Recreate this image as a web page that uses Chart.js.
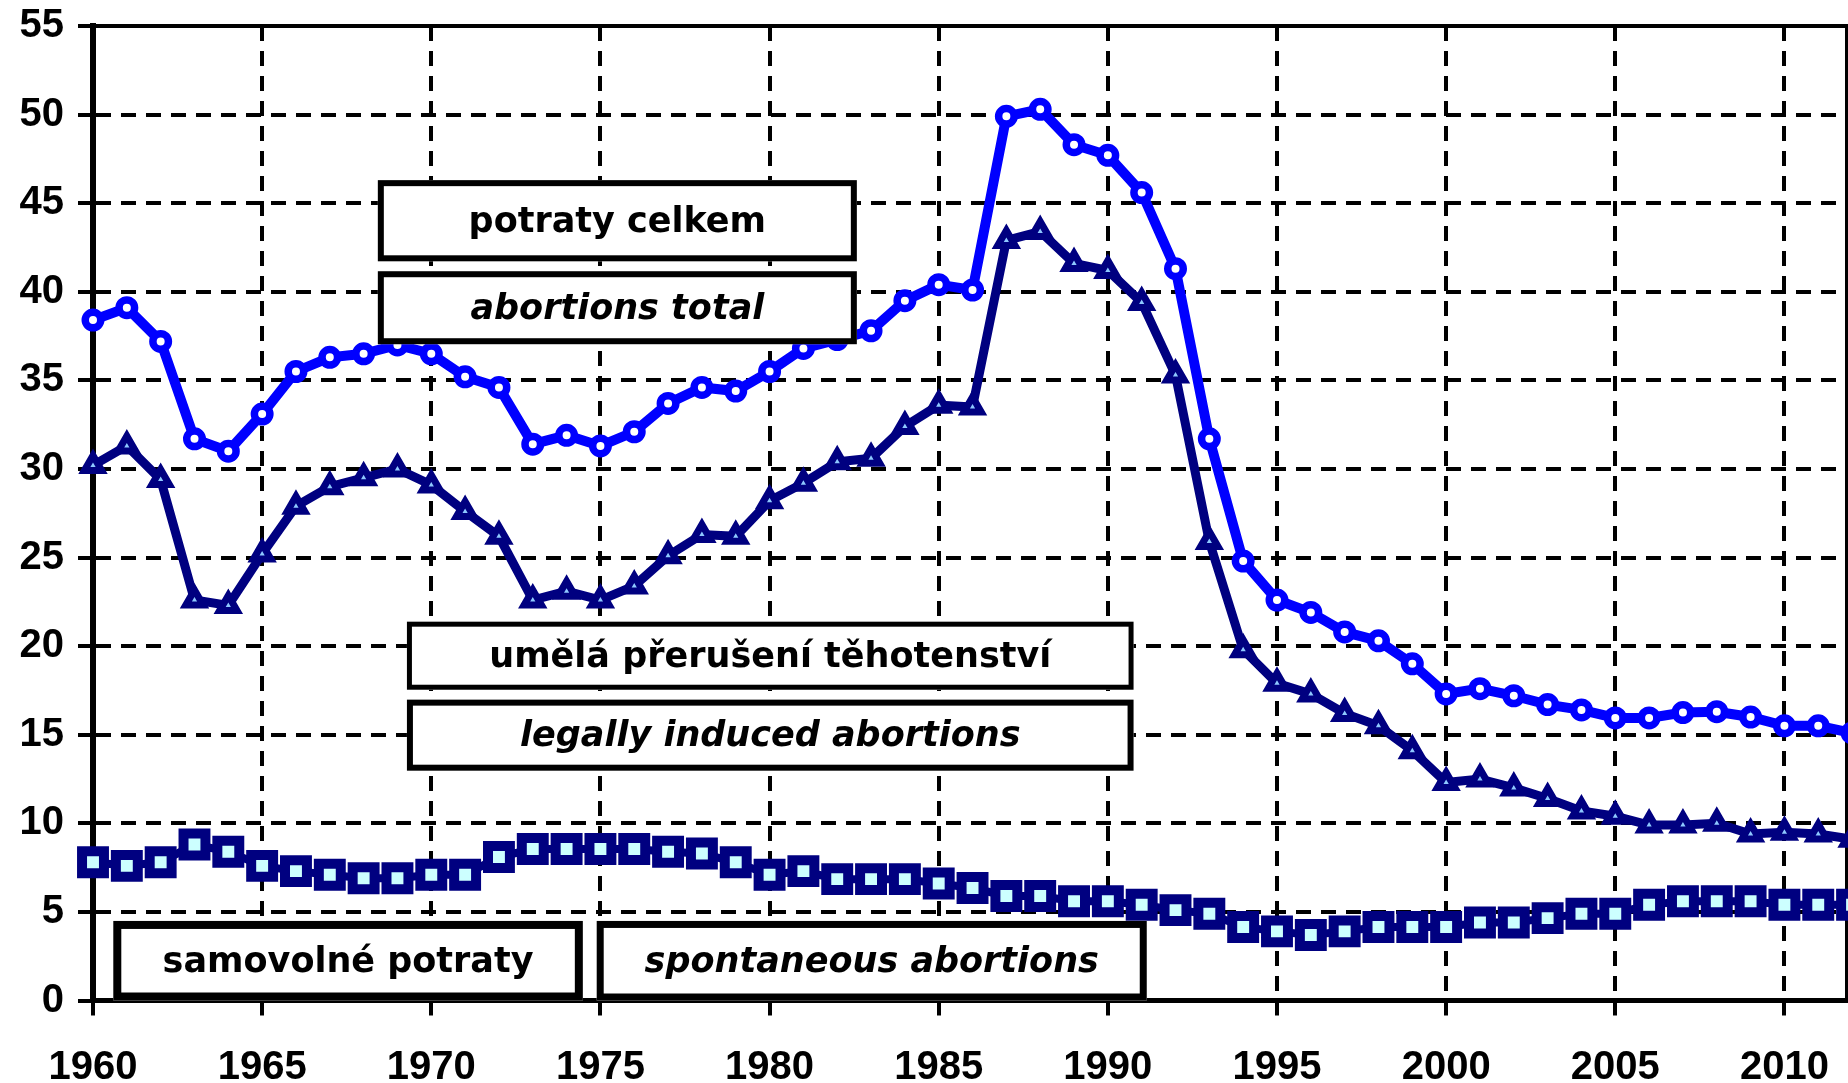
<!DOCTYPE html>
<html>
<head>
<meta charset="utf-8">
<script src="https://cdn.jsdelivr.net/npm/chart.js@4/dist/chart.umd.min.js"></script>
<style>
  html, body { margin: 0; padding: 0; background: #fff; overflow: hidden; }
  canvas { display: block; }
</style>
</head>
<body>
<canvas id="myChart" width="1848" height="1083"></canvas>
<script>
const years = [1960,1961,1962,1963,1964,1965,1966,1967,1968,1969,
               1970,1971,1972,1973,1974,1975,1976,1977,1978,1979,
               1980,1981,1982,1983,1984,1985,1986,1987,1988,1989,
               1990,1991,1992,1993,1994,1995,1996,1997,1998,1999,
               2000,2001,2002,2003,2004,2005,2006,2007,2008,2009,
               2010,2011,2012];

// potraty celkem / abortions total
const totalAbortions = [38.4,39.1,37.2,31.7,31.0,33.1,35.5,36.3,36.5,37.0,
                        36.5,35.2,34.6,31.4,31.9,31.3,32.1,33.7,34.6,34.4,
                        35.5,36.8,37.3,37.8,39.5,40.4,40.1,49.9,50.3,48.3,
                        47.7,45.6,41.3,31.7,24.8,22.6,21.9,20.8,20.3,19.0,
                        17.3,17.6,17.2,16.7,16.4,15.95,15.95,16.25,16.3,16.0,
                        15.5,15.5,15.1];

// umělá přerušení těhotenství / legally induced abortions
const inducedAbortions = [30.2,31.3,29.4,22.6,22.3,25.2,27.9,29.0,29.5,30.0,
                          29.1,27.6,26.2,22.6,23.1,22.6,23.4,25.1,26.3,26.2,
                          28.2,29.2,30.4,30.6,32.4,33.6,33.5,42.9,43.4,41.6,
                          41.2,39.4,35.3,25.9,19.8,17.9,17.3,16.2,15.5,14.1,
                          12.3,12.5,12.0,11.4,10.7,10.4,9.9,9.9,10.0,9.4,
                          9.5,9.4,9.1];

// samovolné potraty / spontaneous abortions
const spontaneousAbortions = [7.8,7.6,7.8,8.8,8.4,7.6,7.3,7.1,6.9,6.9,
                              7.1,7.1,8.1,8.55,8.55,8.55,8.55,8.4,8.3,7.8,
                              7.1,7.3,6.85,6.85,6.85,6.6,6.35,5.9,5.9,5.6,
                              5.6,5.4,5.1,4.9,4.15,3.9,3.7,3.9,4.15,4.15,
                              4.15,4.4,4.4,4.65,4.9,4.9,5.4,5.6,5.6,5.6,
                              5.4,5.4,5.4];

const xTicks = [1960,1965,1970,1975,1980,1985,1990,1995,2000,2005,2010];
const yTicks = [0,5,10,15,20,25,30,35,40,45,50,55];

const boxLabels = ["potraty celkem", "abortions total",
                   "umělá přerušení těhotenství", "legally induced abortions",
                   "samovolné potraty", "spontaneous abortions"];

// box placement in axis units: [xFrom, xTo, yTop, yBottom, italic, border]
const boxPlacement = [
  [1968.42, 1982.58, 46.3, 41.72, false, 6],
  [1968.42, 1982.58, 41.16, 37.04, true, 6],
  [1969.28, 1990.76, 21.38, 17.54, false, 5],
  [1969.28, 1990.76, 16.98, 12.97, true, 6],
  [1960.6, 1974.48, 4.49, 0.0, false, 8],
  [1974.89, 1991.15, 4.49, 0.0, true, 7]
];

const BOX_FONT = '"DejaVu Sans", Verdana, sans-serif';
const TICK_FONT = '"Liberation Sans", Arial, sans-serif';

function toPoints(values) {
  return years.map((yr, i) => ({x: yr, y: values[i]}));
}

const frameBorder = {
  id: 'frameBorder',
  beforeDatasetsDraw(chart) {
    const {ctx, chartArea: a} = chart;
    ctx.save();
    ctx.strokeStyle = '#000';
    ctx.lineWidth = 4;
    ctx.strokeRect(a.left, a.top, a.right - a.left, a.bottom - a.top);
    ctx.restore();
  }
};

const textBoxes = {
  id: 'textBoxes',
  afterDatasetsDraw(chart) {
    const {ctx, scales: {x, y}} = chart;
    ctx.save();
    boxPlacement.forEach((b, i) => {
      const left = x.getPixelForValue(b[0]);
      const right = x.getPixelForValue(b[1]);
      const top = y.getPixelForValue(b[2]);
      const bottom = y.getPixelForValue(b[3]);
      ctx.fillStyle = '#fff';
      ctx.fillRect(left, top, right - left, bottom - top);
      ctx.lineWidth = b[5];
      ctx.strokeStyle = '#000';
      ctx.strokeRect(left + b[5] / 2, top + b[5] / 2, right - left - b[5], bottom - top - b[5]);
      ctx.fillStyle = '#000';
      ctx.font = (b[4] ? 'italic ' : '') + 'bold 35px ' + BOX_FONT;
      ctx.textAlign = 'center';
      ctx.textBaseline = 'middle';
      ctx.fillText(boxLabels[i], (left + right) / 2, (top + bottom) / 2 + 2);
    });
    ctx.restore();
  }
};

document.addEventListener('DOMContentLoaded', function () {
  new Chart("myChart", {
    type: "line",
    data: {
      datasets: [{
        label: "samovolné potraty",
        data: toPoints(spontaneousAbortions),
        borderColor: "#000080",
        borderWidth: 8,
        pointStyle: "rect",
        pointRadius: 15.5,
        pointBorderWidth: 10,
        pointBorderColor: "#000080",
        pointBackgroundColor: "#CCFFFF",
        tension: 0,
        clip: 20
      }, {
        label: "umělá přerušení těhotenství",
        data: toPoints(inducedAbortions),
        borderColor: "#000080",
        borderWidth: 9,
        pointStyle: "triangle",
        pointRadius: 10,
        pointBorderWidth: 7,
        pointBorderColor: "#000080",
        pointBackgroundColor: "#8EC8FF",
        tension: 0,
        clip: 20
      }, {
        label: "potraty celkem",
        data: toPoints(totalAbortions),
        borderColor: "#0000FF",
        borderWidth: 10,
        pointStyle: "circle",
        pointRadius: 7.75,
        pointBorderWidth: 7.5,
        pointBorderColor: "#0000FF",
        pointBackgroundColor: "#FFFFFF",
        tension: 0,
        clip: 20
      }]
    },
    options: {
      responsive: false,
      animation: false,
      devicePixelRatio: 1,
      layout: { autoPadding: false, padding: { top: 26, right: 1, left: 0, bottom: 0 } },
      plugins: {
        legend: { display: false },
        tooltip: { enabled: false }
      },
      scales: {
        x: {
          type: "linear",
          min: 1960,
          max: 2011.85,
          afterFit: s => { s.height = 82.5; s.paddingLeft = 0; s.paddingRight = 0; },
          afterBuildTicks: s => { s.ticks = xTicks.map(v => ({value: v})); },
          ticks: {
            color: "#000",
            font: { family: TICK_FONT, size: 40, weight: "bold" },
            padding: 28,
            maxRotation: 0,
            autoSkip: false,
            callback: v => String(v)
          },
          grid: { color: "#000", lineWidth: 4, tickLength: 15, tickWidth: 4, tickColor: "#000" },
          border: { color: "#000", width: 5, dash: [15, 10] }
        },
        y: {
          min: 0,
          max: 55,
          afterFit: s => { s.width = 93; s.paddingTop = 0; s.paddingBottom = 0; },
          afterBuildTicks: s => { s.ticks = yTicks.map(v => ({value: v})); },
          ticks: {
            color: "#000",
            font: { family: TICK_FONT, size: 40, weight: "bold" },
            padding: 14,
            autoSkip: false,
            callback: v => String(v)
          },
          grid: { color: "#000", lineWidth: 4, tickLength: 15, tickWidth: 4, tickColor: "#000" },
          border: { color: "#000", width: 6, dash: [15, 10] }
        }
      }
    },
    plugins: [frameBorder, textBoxes]
  });
});
</script>
</body>
</html>
